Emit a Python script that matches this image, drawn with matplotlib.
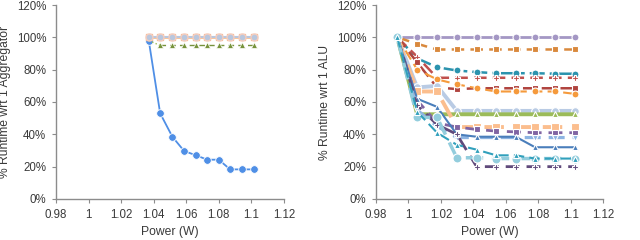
import matplotlib
matplotlib.use("Agg")
import matplotlib.pyplot as plt
from matplotlib.ticker import FuncFormatter

plt.rcParams['font.family'] = ['Liberation Sans', 'DejaVu Sans']

# ---------------- data ----------------
left_x = [1.037, 1.044, 1.0515, 1.0587, 1.066, 1.073, 1.080, 1.087, 1.094, 1.1017]
left_blue = [98, 53, 38.5, 29.7, 27, 24.3, 24.3, 18.3, 18.3, 18.3]
left_gray = [100] * 10
left_peach = [100] * 10
left_green = [98, 95, 95, 95, 95, 95, 95, 95, 95, 95]

right_x = [0.9931, 1.0054, 1.0176, 1.0298, 1.042, 1.054, 1.0661, 1.078, 1.0904, 1.1027]
r_lavender = [100] * 10
r_orange_sq = [100, 96, 92.5, 92.5, 92.5, 92.5, 92.5, 92.5, 92.5, 92.5]
r_teal = [100, 87, 81.5, 79.5, 78.5, 77.8, 77.8, 77.8, 77.5, 77.5]
r_red_plus = [100, 88, 75, 75, 75, 75, 75, 75, 75, 75]
r_darkred_sq = [100, 84.5, 69, 68, 68.5, 68.5, 68.5, 68.5, 68.5, 68.5]
r_orange_o = [100, 80, 74, 71, 68.5, 66.5, 66.5, 66.5, 66.5, 65]
r_steel = [100, 69, 70, 54.5, 54.5, 54.5, 54.5, 54.5, 54.5, 54.5]
r_green = [100, 52.4, 52.4, 52.4, 52.4, 52.4, 52.4, 52.4, 52.4, 52.4]
r_peach = [100, 66.5, 66.5, 44.5, 44.5, 44.5, 44.5, 44.5, 44.5, 44.5]
r_purple_sq = [100, 61, 47, 44.5, 43, 42, 41.5, 41, 41, 41]
r_lightblue_v = [100, 55, 45, 38, 38, 38, 38, 38, 38, 38]
r_blue_tri = [100, 62, 57, 40, 38.5, 38.5, 38.5, 32, 32, 32]
r_darkpurple = [100, 58, 46, 40, 20, 20, 20, 20, 20, 20]
r_cyan = [100, 50.5, 50.5, 25.5, 25.5, 25, 25, 25, 25, 25]
r_teal_tri = [100, 54, 41, 33.5, 30.5, 27, 27, 25, 25, 25]

x_ticks = [0.98, 1.0, 1.02, 1.04, 1.06, 1.08, 1.10, 1.12]
x_tick_labels = ["0.98", "1", "1.02", "1.04", "1.06", "1.08", "1.1", "1.12"]
y_ticks = [0, 20, 40, 60, 80, 100, 120]

# ---------------- figure ----------------
fig = plt.figure(figsize=(6.4, 2.4), dpi=100)
ax1 = fig.add_axes([0.0875, 0.171, 0.356, 0.808])
ax2 = fig.add_axes([0.5875, 0.171, 0.355, 0.808])

text_color = "#3A3A3A"
spine_color = "#8C8C8C"

for ax in (ax1, ax2):
    ax.set_xlim(0.98, 1.12)
    ax.set_ylim(0, 120)
    ax.set_xticks(x_ticks)
    ax.set_xticklabels(x_tick_labels)
    ax.set_yticks(y_ticks)
    ax.yaxis.set_major_formatter(FuncFormatter(lambda v, p: f"{int(v)}%"))
    for s in ("top", "right"):
        ax.spines[s].set_visible(False)
    for s in ("left", "bottom"):
        ax.spines[s].set_color(spine_color)
        ax.spines[s].set_linewidth(1.0)
    ax.tick_params(axis="both", direction="out", length=3, width=0.8,
                   color=spine_color, labelsize=8.3, labelcolor=text_color, pad=4)
    ax.set_xlabel("Power (W)", fontsize=8.7, color=text_color, labelpad=4)

ax1.set_ylabel("% Runtime wrt 1 Aggregator", fontsize=8.7, color=text_color, labelpad=4)
ax2.set_ylabel("% Runtime wrt 1 ALU", fontsize=8.7, color=text_color, labelpad=4)

# ---------------- left panel ----------------
ax1.plot(left_x, left_blue, color="#4F8FE6", lw=1.3, ls="-", marker="o", ms=5.5, mec="white", mew=0.6, zorder=2)
ax1.plot(left_x, left_peach, color="#FAC090", lw=2, marker="s", ms=5, mec="#F8B58A", mfc="#FAC090", zorder=3)
ax1.plot(left_x, left_gray, color="#B9C7DE", lw=1.5, marker="o", ms=5, mfc="#B9C7DE", mec="#F4CDBF", mew=1, zorder=4)
ax1.plot(left_x[1:], left_green[1:], color="#77933C", lw=1, ls=(0, (4, 3)), marker="^", ms=4.5, mec="white", mew=0.5, zorder=3)
ax1.plot(left_x[:2], left_green[:2], color="#9BBB59", lw=1, ls=":", zorder=3)

# ---------------- right panel ----------------
def rp(y, color, marker, ls, lw, ms=5, z=3):
    ax2.plot(right_x, y, color=color, lw=lw, ls=ls, marker=marker, ms=ms,
             mfc=color, mec="white", mew=0.8, zorder=z)

dash = (0, (5, 2.5))
dashdot = (0, (6, 2, 1.5, 2))

rp(r_lavender, "#A497C4", "o", "-", 2)
rp(r_orange_sq, "#D9893D", "s", dash, 1.8)
rp(r_teal, "#2B93AE", "o", dashdot, 1.8)
rp(r_red_plus, "#C0504D", "P", dash, 1.8)
rp(r_darkred_sq, "#B0443F", "s", dash, 1.8)
rp(r_orange_o, "#F59A3C", "o", dash, 1.5)
rp(r_steel, "#B9CBE4", "o", "-", 2.8, ms=5.5)
rp(r_green, "#9BBB59", "^", "-", 2.8)
rp(r_peach, "#FBBE8E", "s", dash, 2.8, ms=5.5)
rp(r_purple_sq, "#8064A2", "s", dash, 2)
rp(r_lightblue_v, "#8DB4E2", "v", dash, 2.3)
rp(r_blue_tri, "#4A7EBB", "^", "-", 1.5)
rp(r_darkpurple, "#604A7B", "P", dash, 2)
rp(r_cyan, "#93CDDD", "o", dash, 2.5, ms=6.5)
rp(r_teal_tri, "#31A0BC", "^", dash, 1.5)

fig.savefig("out.png", dpi=100)
